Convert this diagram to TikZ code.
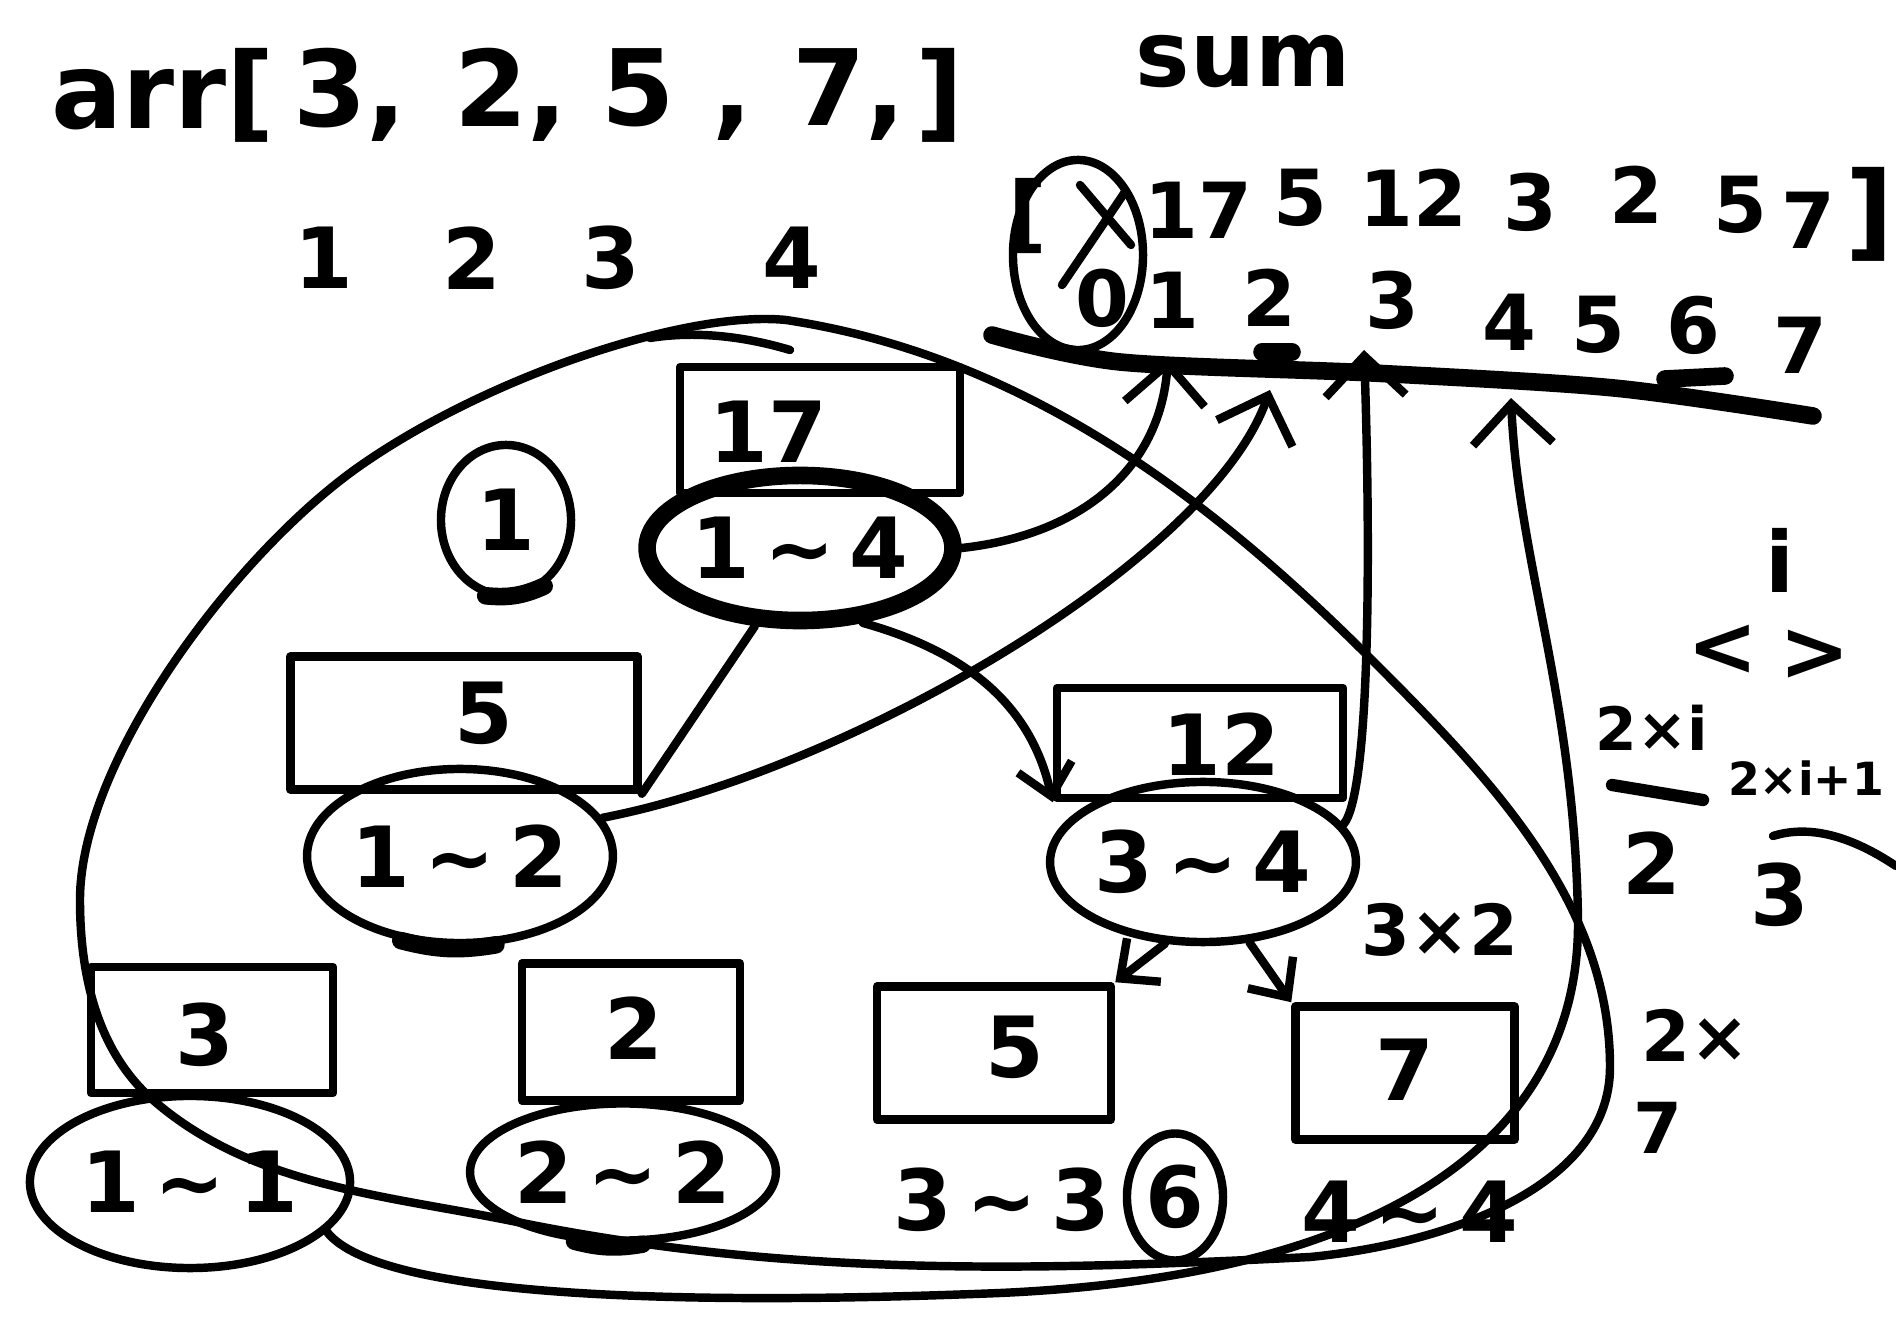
\documentclass[tikz,border=0pt]{standalone}
\usepackage{fontspec}
\setmainfont{DejaVu Sans}
\usetikzlibrary{arrows.meta,shapes.geometric}
\newcommand{\rng}[2]{#1\,\textasciitilde\,#2}
\tikzset{
  inkline/.style={line width=2.4pt,line cap=round,line join=round},
  heavyline/.style={inkline,line width=5pt},
  sumlink/.style={inkline,-{Straight Barb[length=4mm,width=8mm]}},
  childlink/.style={inkline,-{Straight Barb[length=3mm,width=5.5mm]}},
  ink/.style={font=\fontsize{24}{29}\selectfont\bfseries,inner sep=1pt},
  inkmid/.style={font=\fontsize{22}{26}\selectfont\bfseries,inner sep=1pt},
  inkbig/.style={font=\fontsize{30}{36}\selectfont\bfseries,inner sep=1pt},
  inksmall/.style={font=\fontsize{20}{24}\selectfont\bfseries,inner sep=1pt},
  inktiny/.style={font=\fontsize{13}{15}\selectfont\bfseries,inner sep=1pt},
  valbox/.style={draw,inkline,inner sep=0pt},
  rangeoval/.style={draw,inkline,ellipse,ink,inner sep=0pt},
  numring/.style={draw,inkline,ellipse,ink,inner sep=0pt},
}

\begin{document}
\begin{tikzpicture}[x=0.01cm,y=-0.01cm]
  \useasboundingbox (0,0) rectangle (1896,1325);

  % the input array
  \foreach \t/\x [count=\k] in {{arr[}/163,{3,}/350,{2,}/511,{5 ,}/677,{7,}/849,{]}/940}
    \node[inkbig] (arr\k) at (\x,95) {\t};
  \foreach \n/\x in {1/324,2/472,3/611,4/792}
    \node[ink] (pos\n) at (\x,258) {\n};
  \node[font=\fontsize{26}{31}\selectfont\bfseries] (sumlabel) at (1243,62) {sum};

  % the sum array
  \node[ink] (lbrack) at (1028,216) {[};
  \node[numring,minimum width=13mm,minimum height=19mm] (slot0) at (1078,255) {};
  \draw[inkline] (1080,185) -- (1131,245);
  \draw[inkline] (1125,192) -- (1062,285);
  \node[inkmid] (idx0) at (1102,298) {0};
  \foreach \v/\x/\y [count=\k] in {17/1198/210,5/1300/198,12/1413/198,3/1530/202,2/1636/195,5/1740/205,7/1808/220}
    \node[inkmid] (val\k) at (\x,\y) {\v};
  \node[inkbig] (rbrack) at (1870,214) {]};
  \foreach \x/\y [count=\k] in {1172/300,1269/298,1392/300,1509/322,1598/325,1693/325,1800/345}
    \node[inkmid] (idx\k) at (\x,\y) {\k};
  \draw[heavyline] plot[smooth] coordinates {(992,335) (1120,362) (1372,373) (1614,388) (1813,416)};
  \draw[heavyline] (1262,352) -- (1292,352);
  \draw[heavyline] (1665,379) -- (1725,376);
  \coordinate (tip1) at (1168,358);
  \coordinate (tip2) at (1270,390);
  \coordinate (tip3) at (1364,350);
  \coordinate (tip4) at (1511,398);

  % the tree
  \node[numring,minimum width=13mm,minimum height=15mm] (ring1) at (506,520) {1};
  \draw[heavyline] (ring1.255) to[bend right=15] (ring1.300);

  \node[valbox,minimum width=28mm,minimum height=12.6mm] (box17) at (820,430) {};
  \node[ink] (sum17) at (768,432) {17};
  \node[rangeoval,heavyline,minimum width=30mm,minimum height=14.5mm] (r14) at (800,548) {\rng{1}{4}};

  \node[valbox,minimum width=34.7mm,minimum height=13.3mm] (box5) at (464,723) {};
  \node[ink] (sum5) at (484,713) {5};
  \node[rangeoval,minimum width=30mm,minimum height=17.4mm] (r12) at (460,856) {\rng{1}{2}};
  \draw[heavyline] (r12.235) to[bend right=12] (r12.292);

  \node[valbox,minimum width=28.6mm,minimum height=11mm] (box12) at (1200,743) {};
  \node[ink] (sum12) at (1221,744) {12};
  \node[rangeoval,minimum width=29.5mm,minimum height=16mm] (r34) at (1203,862) {\rng{3}{4}};

  \node[valbox,minimum width=24.2mm,minimum height=12.6mm] (box3) at (212,1030) {};
  \node[ink] (sum3) at (205,1035) {3};
  \node[rangeoval,minimum width=32mm,minimum height=17.2mm] (r11) at (190,1182) {\rng{1}{1}};

  \node[valbox,minimum width=21.8mm,minimum height=13.7mm] (box2) at (631,1032) {};
  \node[ink] (sum2) at (634,1028) {2};
  \node[rangeoval,minimum width=24.7mm,minimum height=13.7mm] (r22) at (623,1172) {\rng{2}{2}};
  \draw[heavyline] (r22.235) to[bend right=12] (r22.285);

  \node[valbox,minimum width=23.4mm,minimum height=13.3mm] (box5l) at (994,1053) {};
  \node[ink] (sum5l) at (1015,1047) {5};
  \node[ink] (r33) at (1002,1200) {\rng{3}{3}};
  \node[numring,minimum width=9.6mm,minimum height=12.7mm] (ring6) at (1175,1197) {6};

  \node[valbox,minimum width=21.9mm,minimum height=13.3mm] (box7) at (1405,1073) {};
  \node[ink] (sum7) at (1405,1070) {7};
  \node[ink] (r44) at (1410,1212) {\rng{4}{4}};

  % tree edges
  \draw[inkline] (r14.240) -- (box5.south east);
  \draw[childlink] (r14.-50) .. controls (960,650) and (1030,700) .. (box12.south west);
  \draw[childlink] (r34.245) -- (box5l.north east);
  \draw[childlink] (r34.-60) -- (box7.north west);

  % node -> slot in sum
  \draw[sumlink] (r14.east) .. controls (1080,535) and (1160,470) .. (tip1);
  \draw[sumlink] (r12.15) .. controls (850,770) and (1210,560) .. (tip2);
  \draw[sumlink] (r34.15) .. controls (1372,790) and (1370,520) .. (tip3);
  \draw[sumlink] (r11.-20) .. controls (380,1300) and (700,1305) .. (1000,1293)
    .. controls (1400,1275) and (1580,1130) .. (1578,920)
    .. controls (1575,700) and (1518,560) .. (tip4);

  % loop round the whole tree
  \draw[inkline] (786,320) .. controls (1018,355) and (1203,491) .. (1369,657)
    .. controls (1487,775) and (1610,900) .. (1610,1067)
    .. controls (1610,1192) and (1435,1245) .. (1310,1257)
    .. controls (1032,1271) and (789,1277) .. (517,1222)
    .. controls (386,1195) and (253,1187) .. (153,1100)
    .. controls (97,1051) and (80,975) .. (80,900)
    .. controls (80,760) and (235,555) .. (357,468)
    .. controls (487,376) and (688,310) .. cycle;
  \draw[inkline] (650,338) .. controls (700,330) and (750,338) .. (790,350);

  % child index notes
  \node[ink] (noti) at (1780,560) {i};
  \node[ink] (notl) at (1723,650) {<};
  \node[ink] (notr) at (1815,655) {>};
  \node[font=\fontsize{17}{20}\selectfont\bfseries] (notl2) at (1652,728) {2×i};
  \draw[inkline,line width=3.5pt] (1612,785) -- (1703,800);
  \node[ink] (notl3) at (1652,863) {2};
  \node[inktiny] (notr2) at (1806,778) {2×i+1};
  \node[ink] (notr3) at (1780,895) {3};
  \draw[inkline] (1773,836) .. controls (1805,826) and (1845,832) .. (1896,866);
  \node[inksmall] (mul32) at (1440,930) {3×2};
  \node[inksmall] (mul2x) at (1695,1035) {2×};
  \node[inksmall] (gt7) at (1658,1128) {7};
\end{tikzpicture}
\end{document}
